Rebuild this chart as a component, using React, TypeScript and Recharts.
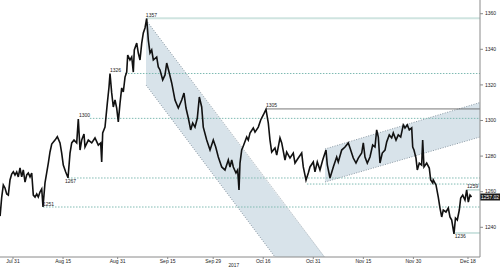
import React from 'react';
import {
  ComposedChart,
  Line,
  Area,
  XAxis,
  YAxis,
  ReferenceLine,
  ReferenceDot,
  Label,
} from 'recharts';

// x values are business days counted from Jul 31 2017
const tickDays = [0, 11, 23, 34, 44, 55, 66, 77, 88, 100];
const tickLabels = ['Jul 31', 'Aug 15', 'Aug 31', 'Sep 15', 'Sep 29', 'Oct 16', 'Oct 31', 'Nov 15', 'Nov 30', 'Dec 18'];
const priceTicks = [1240, 1260, 1280, 1300, 1320, 1340, 1360];

const priceDays = [
  -2.84, -2.48, -2.13, -1.76, -1.38, -1.03, -0.66, -0.29, 0.07, 0.44, 0.81, 1.16, 1.54, 1.91, 2.26, 2.64,
  3.01, 3.36, 3.74, 4.11, 4.46, 4.84, 5.21, 5.56, 5.93, 6.31, 6.59, 7.03, 7.76, 8.13, 8.51, 9.23, 9.74,
  10.33, 10.7, 11.05, 11.58, 12.09, 12.53, 12.9, 13.41, 14.0, 14.35, 14.73, 15.1, 15.6, 15.82, 16.55,
  17.3, 18.02, 18.75, 19.27, 19.49, 19.71, 20.22, 20.73, 21.1, 21.32, 21.69, 22.04, 22.42, 22.79, 23.14,
  23.52, 23.89, 24.24, 24.62, 24.99, 25.21, 25.71, 26.09, 26.44, 26.66, 27.19, 27.54, 27.91, 28.29, 28.64,
  29.01, 29.38, 29.74, 30.11, 30.48, 30.84, 31.58, 31.93, 32.31, 32.9, 33.41, 33.78, 34.35, 34.88, 35.6,
  36.33, 37.08, 37.58, 38.02, 38.53, 39.05, 39.49, 40.0, 40.51, 40.95, 41.47, 41.82, 42.57, 43.3, 44.02,
  44.55, 45.12, 45.87, 46.59, 47.32, 47.69, 48.07, 48.42, 49.01, 49.38, 49.67, 49.89, 50.26, 50.62, 51.36,
  51.71, 52.09, 52.81, 53.19, 53.91, 54.44, 55.01, 55.6, 56.11, 56.48, 56.86, 57.58, 57.96, 58.68, 59.06,
  59.78, 60.15, 60.88, 61.6, 61.98, 62.7, 63.45, 63.8, 64.4, 64.9, 65.27, 66.0, 66.37, 66.88, 67.47, 68.07,
  68.79, 69.08, 69.67, 70.4, 71.14, 71.49, 72.24, 72.97, 73.69, 74.07, 74.79, 75.38, 75.89, 76.64, 76.99,
  77.36, 77.87, 78.46, 79.05, 79.56, 79.93, 80.29, 80.66, 81.16, 81.76, 82.13, 82.7, 83.23, 83.58, 84.18,
  84.68, 85.21, 85.78, 86.15, 86.66, 87.1, 87.63, 87.85, 88.13, 88.57, 88.86, 89.3, 89.82, 90.04, 90.33,
  90.92, 91.49, 91.8, 92.24, 92.37, 92.97, 93.47, 93.85, 94.22, 94.57, 95.16, 95.67, 96.04, 96.42, 96.92,
  97.25, 97.65, 98.09, 98.4, 98.84, 99.34, 99.71, 100.07, 100.44, 100.77,
];

const priceValues = [
  1246.3, 1257.0, 1263.8, 1262.1, 1258.7, 1258.1, 1266.6, 1269.9, 1271.2, 1269.4, 1271.1, 1268.3, 1273.3, 1268.3, 1272.2, 1265.4,
  1269.4, 1270.5, 1268.3, 1270.5, 1258.1, 1257.0, 1258.7, 1257.0, 1259.8, 1261.5, 1251.5, 1264.9, 1276.1, 1282.3, 1286.8, 1289.0, 1290.9,
  1287.4, 1281.7, 1275.0, 1271.1, 1267.8, 1281.7, 1287.4, 1289.0, 1287.4, 1300.8, 1283.4, 1289.0, 1292.4, 1285.1, 1289.0,
  1287.4, 1290.2, 1286.2, 1287.4, 1276.7, 1293.0, 1296.3, 1309.8, 1318.8, 1326.4, 1315.5, 1307.6, 1311.5, 1307.0, 1299.2,
  1309.8, 1318.3, 1316.0, 1324.4, 1327.2, 1336.8, 1334.0, 1335.7, 1327.2, 1339.6, 1343.5, 1337.9, 1334.0, 1343.5, 1349.2,
  1352.0, 1357.3, 1345.2, 1337.9, 1339.6, 1334.0, 1335.7, 1330.1, 1328.4, 1322.8, 1325.6, 1332.3, 1326.7, 1321.1, 1311.5,
  1307.0, 1311.5, 1315.4, 1307.0, 1301.4, 1294.7, 1298.6, 1296.3, 1301.4, 1313.2, 1307.6, 1296.3, 1289.0, 1283.4, 1289.0,
  1285.1, 1279.5, 1273.9, 1272.2, 1277.8, 1273.9, 1277.8, 1273.9, 1270.5, 1272.2, 1261.0, 1276.1, 1283.4, 1285.7, 1290.7,
  1289.0, 1293.0, 1295.8, 1293.5, 1296.3, 1300.3, 1303.1, 1306.3, 1298.6, 1289.0, 1282.3, 1284.6, 1280.6, 1290.2, 1287.4,
  1277.8, 1282.3, 1278.9, 1281.7, 1276.1, 1278.9, 1281.7, 1273.9, 1266.5, 1270.5, 1273.9, 1276.7, 1271.1, 1276.7, 1272.2, 1277.8,
  1283.4, 1275.0, 1267.7, 1273.9, 1279.5, 1276.7, 1283.4, 1285.1, 1287.4, 1284.6, 1278.9, 1276.1, 1278.9, 1281.7, 1287.4,
  1279.5, 1276.1, 1279.5, 1286.2, 1285.1, 1294.7, 1290.7, 1276.1, 1281.7, 1283.4, 1287.9, 1291.9, 1290.2, 1293.0, 1289.0,
  1291.9, 1290.7, 1297.5, 1295.8, 1297.5, 1294.7, 1295.8, 1285.1, 1283.4, 1278.9, 1272.2, 1276.1, 1275.0, 1289.0, 1273.9,
  1276.1, 1273.3, 1266.6, 1264.9, 1266.6, 1263.8, 1257.0, 1250.8, 1245.8, 1249.7, 1248.6, 1250.8, 1245.8, 1244.1, 1236.3,
  1245.2, 1244.1, 1249.7, 1256.5, 1258.1, 1255.3, 1261.0, 1254.2, 1258.1, 1257.0,
];

const lastPrice = 1257.02;

// falling channel: [low, high] at its corners
const fallDays = [29.23, 57.58, 68.46];
const fallBands = [[1319.94, 1356.46], [1223.31, 1259.72], [1223.31, 1223.31]];
// rising channel
const riseDays = [68.57, 102.64];
const riseBands = [[1265.45, 1283.99], [1290.73, 1310.11]];

// support / resistance levels
const dashedLevels = [1326.4, 1301.2, 1267.7, 1251.4, 1264.3];
const dashedStarts = [24.6, 16.9, 12.1, 6.6, 64.6];

const annotations = [
  { text: '1357', d: 29.2, v: 1357.5 },
  { text: '1326', d: 21.32, v: 1326.4 },
  { text: '1300', d: 14.5, v: 1301.2 },
  { text: '1305', d: 55.6, v: 1306.5 },
  { text: '1267', d: 11.4, v: 1267.7 },
  { text: '1251', d: 6.6, v: 1251.4 },
  { text: '1259', d: 99.8, v: 1261.0 },
  { text: '1236', d: 97.1, v: 1236.8 },
];

const priceData = priceDays.map((d, i) => ({ d, v: priceValues[i] }));
const fallData = fallDays.map((d, i) => ({ d, band: fallBands[i] }));
const riseData = riseDays.map((d, i) => ({ d, band: riseBands[i] }));

const X_MIN = -2.86;
const X_MAX = 102.64;
const FONT = '"Liberation Sans", Arial, sans-serif';
const DASH_COLOR = '#7fbab2';
const BORDER_COLOR = '#8d9ba6';
const BELOW = ['1267', '1236'];

const makeLabel = (text: string) => (props: any) => {
  const vb = props.viewBox || {};
  const below = BELOW.includes(text);
  return (
    <text
      x={vb.x}
      y={below ? vb.y + 5.5 : vb.y - 1.5}
      fontSize={5}
      fontFamily={FONT}
      fill="#222"
    >
      {text}
    </text>
  );
};

const priceTag = (props: any) => {
  const vb = props.viewBox || {};
  const x = (vb.x || 0) + (vb.width || 0);
  return (
    <g>
      <rect x={x} y={vb.y - 3.5} width={20} height={7} fill="#1b1b1b" />
      <text x={x + 1} y={vb.y + 1.8} fontSize={5} fontFamily={FONT} fill="#fff">
        {lastPrice.toFixed(2)}
      </text>
    </g>
  );
};

const yearLabel = (props: any) => {
  const vb = props.viewBox || {};
  return (
    <text
      x={vb.x + vb.width * 0.487}
      y={vb.y + vb.height - 1}
      fontSize={4.8}
      fontFamily={FONT}
      fill="#222"
      textAnchor="middle"
    >
      2017
    </text>
  );
};

const App: React.FC = () => {
  return (
    <div style={{ width: 500, height: 268 }}>
      <style>{'body{margin:0}'}</style>
      <ComposedChart width={500} height={268} margin={{ top: 0, right: 0, bottom: 0, left: 0 }}>
        <XAxis
          type="number"
          dataKey="d"
          domain={[X_MIN, X_MAX]}
          allowDataOverflow
          ticks={tickDays}
          tickFormatter={(v) => tickLabels[tickDays.indexOf(v)] ?? ''}
          height={11}
          tickSize={2}
          tickMargin={0}
          stroke="#8a8a8a"
          tick={{ fontSize: 5, fontFamily: FONT, fill: '#222' }}
        >
          <Label content={yearLabel} />
        </XAxis>
        <YAxis
          orientation="right"
          domain={[1223.31, 1367.7]}
          allowDataOverflow
          ticks={priceTicks}
          width={20}
          tickSize={3}
          tickMargin={2}
          stroke="#8a8a8a"
          tick={{ fontSize: 5, fontFamily: FONT, fill: '#222' }}
        />

        <Area
          data={fallData}
          dataKey="band"
          type="linear"
          fill="#d8e3ea"
          fillOpacity={1}
          stroke="none"
          dot={false}
          activeDot={false}
          isAnimationActive={false}
        />
        <Area
          data={riseData}
          dataKey="band"
          type="linear"
          fill="#d8e3ea"
          fillOpacity={1}
          stroke="none"
          dot={false}
          activeDot={false}
          isAnimationActive={false}
        />

        {/* channel borders */}
        <ReferenceLine
          segment={[{ x: fallDays[0], y: fallBands[0][1] }, { x: fallDays[2], y: fallBands[2][1] }]}
          stroke={BORDER_COLOR}
          strokeDasharray="1 1.5"
          ifOverflow="visible"
        />
        <ReferenceLine
          segment={[{ x: fallDays[0], y: fallBands[0][0] }, { x: fallDays[1], y: fallBands[1][0] }]}
          stroke={BORDER_COLOR}
          strokeDasharray="1 1.5"
          ifOverflow="visible"
        />
        <ReferenceLine
          segment={[{ x: riseDays[0], y: riseBands[0][1] }, { x: riseDays[1], y: riseBands[1][1] }]}
          stroke={BORDER_COLOR}
          strokeDasharray="1 1.5"
          ifOverflow="visible"
        />
        <ReferenceLine
          segment={[{ x: riseDays[0], y: riseBands[0][0] }, { x: riseDays[1], y: riseBands[1][0] }]}
          stroke={BORDER_COLOR}
          strokeDasharray="1 1.5"
          ifOverflow="visible"
        />

        {/* levels */}
        {dashedLevels.map((lv, i) => (
          <ReferenceLine
            key={`dl${i}`}
            segment={[{ x: dashedStarts[i], y: lv }, { x: X_MAX, y: lv }]}
            stroke={DASH_COLOR}
            strokeDasharray="1.5 1.5"
            ifOverflow="visible"
          />
        ))}
        <ReferenceLine
          segment={[{ x: 29.45, y: 1357.5 }, { x: X_MAX, y: 1357.5 }]}
          stroke="#cfe4e0"
          strokeWidth={2}
          ifOverflow="visible"
        />
        <ReferenceLine
          segment={[{ x: 55.6, y: 1306.5 }, { x: X_MAX, y: 1306.5 }]}
          stroke="#555"
          strokeWidth={0.8}
          ifOverflow="visible"
        />
        <ReferenceLine
          segment={[{ x: 99.8, y: 1261.0 }, { x: X_MAX, y: 1261.0 }]}
          stroke="#9fc9c3"
          strokeWidth={1}
          ifOverflow="visible"
        />
        <ReferenceLine
          segment={[{ x: 97.1, y: 1236.8 }, { x: X_MAX, y: 1236.8 }]}
          stroke="#9fc9c3"
          strokeWidth={1}
          ifOverflow="visible"
        />

        <Line
          data={priceData}
          dataKey="v"
          type="linear"
          stroke="#111"
          strokeWidth={1.6}
          dot={false}
          activeDot={false}
          isAnimationActive={false}
        />

        {annotations.map((a) => (
          <ReferenceDot
            key={a.text}
            x={a.d}
            y={a.v}
            r={0}
            fill="none"
            stroke="none"
            ifOverflow="visible"
            label={{ content: makeLabel(a.text) }}
          />
        ))}

        <ReferenceLine y={lastPrice} stroke="none" ifOverflow="visible" label={{ content: priceTag }} />
      </ComposedChart>
    </div>
  );
};

export default App;
